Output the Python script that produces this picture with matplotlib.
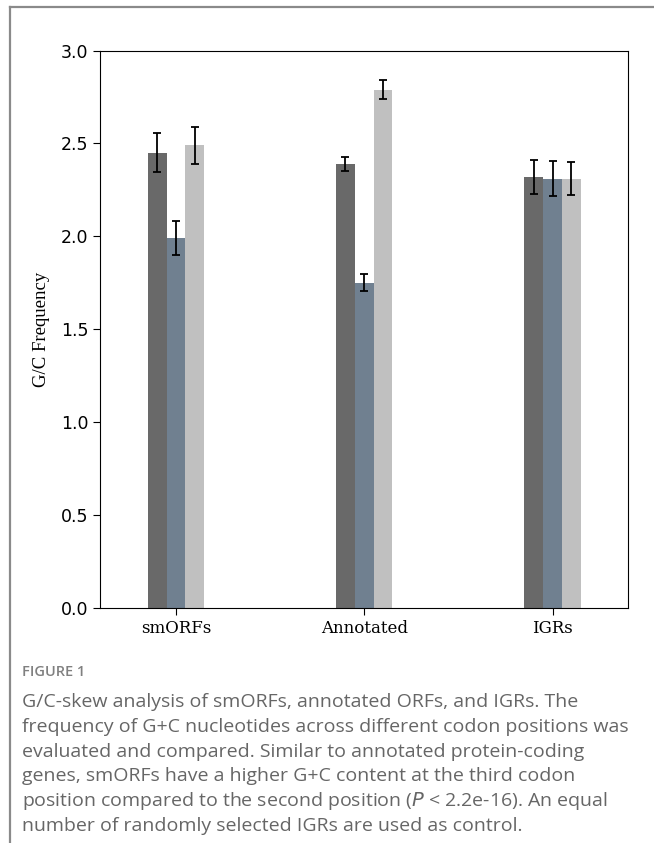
import matplotlib.pyplot as plt
import numpy as np

# data
groups = ["smORFs", "Annotated", "IGRs"]
pos1 = [2.45, 2.39, 2.32]
pos2 = [1.99, 1.75, 2.31]
pos3 = [2.49, 2.79, 2.31]
err1 = [0.105, 0.038, 0.09]
err2 = [0.09, 0.045, 0.095]
err3 = [0.10, 0.05, 0.09]
yticks = [0.0, 0.5, 1.0, 1.5, 2.0, 2.5, 3.0]

caption_title = "FIGURE 1"
caption_lines = [
    "G/C-skew analysis of smORFs, annotated ORFs, and IGRs. The",
    "frequency of G+C nucleotides across different codon positions was",
    "evaluated and compared. Similar to annotated protein-coding",
    "genes, smORFs have a higher G+C content at the third codon",
    "position compared to the second position ($\\it{P}$ < 2.2e-16). An equal",
    "number of randomly selected IGRs are used as control.",
]

fig = plt.figure(figsize=(6.54, 8.43), dpi=100)
ax = fig.add_axes([0.153, 0.279, 0.807, 0.661])

x = np.arange(len(groups))
width = 0.1
colours = ["#696969", "#708090", "#c0c0c0"]
for i, (vals, errs) in enumerate([(pos1, err1), (pos2, err2), (pos3, err3)]):
    ax.bar(x + (i - 1) * width, vals, width, color=colours[i],
           yerr=errs, capsize=3, error_kw={"elinewidth": 1.3, "capthick": 1.3, "ecolor": "black"})

ax.set_xlim(-0.403, 2.40)
ax.set_ylim(0, 3.0)
ax.set_yticks(yticks)
ax.set_yticklabels([f"{t:.1f}" for t in yticks], fontsize=12.5, family="DejaVu Sans")
ax.set_xticks(x)
ax.set_xticklabels(groups, fontsize=12, family="DejaVu Serif")
ax.set_ylabel("G/C Frequency", fontsize=13.5, family="Liberation Serif", labelpad=8)
ax.tick_params(length=5)

# page frame lines
fig.add_artist(plt.Line2D([10 / 654, 10 / 654], [0, 1 - 7 / 843], color="#8a8a8a", lw=1.6))
fig.add_artist(plt.Line2D([10 / 654, 1], [1 - 7 / 843, 1 - 7 / 843], color="#8a8a8a", lw=1.6))

fig.text(22 / 654, 1 - 672 / 843, caption_title, fontsize=10.5, family="Open Sans",
         weight="semibold", color="#808080", va="center")
for k, line in enumerate(caption_lines):
    fig.text(22 / 654, 1 - (702 + 24.8 * k) / 843, line, fontsize=14, family="Open Sans",
             color="#666666", va="center")

fig.savefig("out.png", dpi=100)
